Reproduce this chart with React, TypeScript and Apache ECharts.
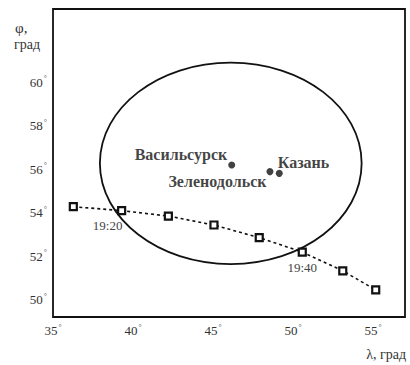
import React, { useEffect, useRef } from "react";
import * as echarts from "echarts";

const xTicks = [35, 40, 45, 50, 55];
const yTicks = [50, 52, 54, 56, 58, 60];
const trackLon = [36.27, 39.29, 42.21, 45.06, 47.89, 50.58, 53.11, 55.17];
const trackLat = [54.28, 54.1, 53.85, 53.44, 52.86, 52.2, 51.34, 50.46];
const trackTimes = ["", "19:20", "", "", "", "19:40", "", ""];
const cityNames = ["Васильсурск", "Зеленодольск", "Казань"];
const cityLon = [46.17, 48.56, 49.14];
const cityLat = [56.19, 55.89, 55.81];
const ellipseCenter = [46.11, 56.27];
const ellipseRadius = [8.18, 4.62];

const SERIF = "Liberation Serif, Times New Roman, serif";

export default function App() {
  const ref = useRef<HTMLDivElement>(null);
  useEffect(() => {
    const chart = echarts.init(ref.current!, null, { renderer: "svg" });
    const tickRich = {
      n: { fontSize: 13, fontFamily: SERIF, color: "#333", lineHeight: 15 },
      d: { fontSize: 8, fontFamily: SERIF, color: "#555", verticalAlign: "top", padding: [0, 0, 0, 1] },
    };
    const labelPos: any[] = [
      { position: "left", distance: 1, offset: [0, -11] },
      { position: "left", distance: 0, offset: [0, 10] },
      { position: "right", distance: 0, offset: [-5, -11] },
    ];
    chart.setOption({
      animation: false,
      textStyle: { fontFamily: SERIF },
      grid: {
        left: 53,
        right: 5,
        top: 9,
        bottom: 48,
        show: true,
        borderColor: "#111",
        borderWidth: 1.8,
        backgroundColor: "transparent",
      },
      xAxis: {
        type: "value",
        min: 35,
        max: 57,
        interval: 5,
        splitLine: { show: false },
        axisLine: { show: false },
        axisTick: { show: false },
        axisLabel: {
          customValues: xTicks,
          margin: 6,
          fontFamily: SERIF,
          formatter: (v: number) => (xTicks.includes(v) ? `{n|${v}}{d|°}` : ""),
          rich: tickRich,
        },
      },
      yAxis: {
        type: "value",
        min: 49.22,
        max: 63.35,
        splitLine: { show: false },
        axisLine: { show: false },
        axisTick: { show: false },
        axisLabel: {
          customValues: yTicks,
          margin: 6,
          fontFamily: SERIF,
          formatter: (v: number) => (yTicks.includes(v) ? `{n|${v}}{d|°}` : ""),
          rich: tickRich,
        },
      },
      graphic: [
        { type: "text", left: 15, top: 20, style: { text: "φ,", fontSize: 15, fontFamily: SERIF, fill: "#333" } },
        { type: "text", left: 14, top: 37, style: { text: "град", fontSize: 14, fontFamily: SERIF, fill: "#333" } },
        { type: "text", right: 4, top: 347, style: { text: "λ, град", fontSize: 14, fontFamily: SERIF, fill: "#333" } },
      ],
      series: [
        {
          type: "custom",
          data: [[ellipseCenter[0], ellipseCenter[1], ellipseRadius[0], ellipseRadius[1]]],
          encode: { x: 0, y: 1 },
          renderItem: (params: any, api: any) => {
            const c = api.coord([api.value(0), api.value(1)]);
            const s = api.size([api.value(2), api.value(3)]);
            return {
              type: "ellipse",
              shape: { cx: c[0], cy: c[1], rx: s[0], ry: s[1] },
              style: { fill: "none", stroke: "#111", lineWidth: 1.8 },
            };
          },
          z: 2,
        },
        {
          type: "line",
          data: trackLon.map((x, i) => ({
            value: [x, trackLat[i]],
            label: {
              show: trackTimes[i] !== "",
              position: "bottom",
              distance: 4,
              offset: i === 1 ? [-14, 0] : [0, 0],
              formatter: trackTimes[i],
              fontFamily: SERIF,
              fontSize: 13,
              color: "#444",
            },
          })),
          symbol: "rect",
          symbolSize: 7,
          showSymbol: true,
          lineStyle: { color: "#111", width: 1.6, type: [3, 3] },
          itemStyle: { color: "#fff", borderColor: "#111", borderWidth: 2.2 },
          z: 3,
        },
        {
          type: "scatter",
          symbol: "circle",
          symbolSize: 7,
          itemStyle: { color: "#111" },
          data: cityNames.map((n, i) => ({
            value: [cityLon[i], cityLat[i]],
            name: n,
            label: {
              show: true,
              formatter: n,
              fontFamily: SERIF,
              fontSize: 16,
              fontWeight: "bold",
              color: "#111",
              ...labelPos[i],
            },
          })),
          z: 4,
        },
      ],
    });
    return () => chart.dispose();
  }, []);
  return <div ref={ref} style={{ position: "fixed", left: 0, top: 0, width: 410, height: 365, background: "#fff" }} />;
}
